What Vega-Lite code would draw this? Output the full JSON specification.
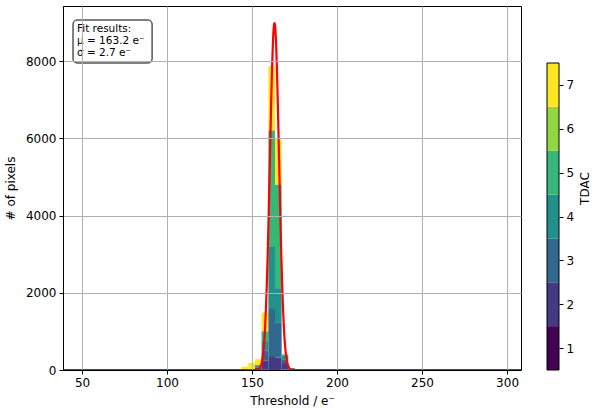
{
  "$schema": "https://vega.github.io/schema/vega-lite/v6.json",
  "padding": {"left": 3, "top": 5, "right": 0, "bottom": 0},
  "background": "white",
  "spacing": 20,
  "datasets": {
    "hist": [
      {"bin_start": 143.9, "bin_end": 147.8, "tdac": 7, "count": 90},
      {"bin_start": 147.8, "bin_end": 151.7, "tdac": 2, "count": 20},
      {"bin_start": 147.8, "bin_end": 151.7, "tdac": 7, "count": 170},
      {"bin_start": 151.7, "bin_end": 155.6, "tdac": 2, "count": 60},
      {"bin_start": 151.7, "bin_end": 155.6, "tdac": 3, "count": 40},
      {"bin_start": 151.7, "bin_end": 155.6, "tdac": 5, "count": 30},
      {"bin_start": 151.7, "bin_end": 155.6, "tdac": 7, "count": 150},
      {"bin_start": 155.6, "bin_end": 159.6, "tdac": 1, "count": 10},
      {"bin_start": 155.6, "bin_end": 159.6, "tdac": 2, "count": 240},
      {"bin_start": 155.6, "bin_end": 159.6, "tdac": 3, "count": 250},
      {"bin_start": 155.6, "bin_end": 159.6, "tdac": 4, "count": 250},
      {"bin_start": 155.6, "bin_end": 159.6, "tdac": 5, "count": 250},
      {"bin_start": 155.6, "bin_end": 159.6, "tdac": 6, "count": 10},
      {"bin_start": 155.6, "bin_end": 159.6, "tdac": 7, "count": 475},
      {"bin_start": 159.6, "bin_end": 163.5, "tdac": 1, "count": 20},
      {"bin_start": 159.6, "bin_end": 163.5, "tdac": 2, "count": 340},
      {"bin_start": 159.6, "bin_end": 163.5, "tdac": 3, "count": 1220},
      {"bin_start": 159.6, "bin_end": 163.5, "tdac": 4, "count": 1607},
      {"bin_start": 159.6, "bin_end": 163.5, "tdac": 5, "count": 3003},
      {"bin_start": 159.6, "bin_end": 163.5, "tdac": 6, "count": 30},
      {"bin_start": 159.6, "bin_end": 163.5, "tdac": 7, "count": 1655},
      {"bin_start": 163.5, "bin_end": 167.4, "tdac": 1, "count": 20},
      {"bin_start": 163.5, "bin_end": 167.4, "tdac": 2, "count": 300},
      {"bin_start": 163.5, "bin_end": 167.4, "tdac": 3, "count": 900},
      {"bin_start": 163.5, "bin_end": 167.4, "tdac": 4, "count": 900},
      {"bin_start": 163.5, "bin_end": 167.4, "tdac": 5, "count": 2685},
      {"bin_start": 163.5, "bin_end": 167.4, "tdac": 7, "count": 1170},
      {"bin_start": 167.4, "bin_end": 171.3, "tdac": 1, "count": 10},
      {"bin_start": 167.4, "bin_end": 171.3, "tdac": 2, "count": 170},
      {"bin_start": 167.4, "bin_end": 171.3, "tdac": 3, "count": 100},
      {"bin_start": 167.4, "bin_end": 171.3, "tdac": 4, "count": 100},
      {"bin_start": 167.4, "bin_end": 171.3, "tdac": 5, "count": 25},
      {"bin_start": 171.3, "bin_end": 175.3, "tdac": 2, "count": 30},
      {"bin_start": 171.3, "bin_end": 175.3, "tdac": 4, "count": 20}
    ],
    "fit": [
      {"x": 38.8, "y": 0}, {"x": 100, "y": 0}, {"x": 145, "y": 0}, {"x": 150.2, "y": 0.1},
      {"x": 151.2, "y": 0.4}, {"x": 152.2, "y": 2.2}, {"x": 153.2, "y": 9.4}, {"x": 154.2, "y": 35},
      {"x": 154.7, "y": 63}, {"x": 155.2, "y": 112}, {"x": 155.7, "y": 190}, {"x": 156.2, "y": 312},
      {"x": 156.7, "y": 496}, {"x": 157.2, "y": 761}, {"x": 157.7, "y": 1129}, {"x": 158.2, "y": 1618},
      {"x": 158.7, "y": 2242}, {"x": 159.2, "y": 3000}, {"x": 159.7, "y": 3880}, {"x": 160.2, "y": 4849},
      {"x": 160.7, "y": 5856}, {"x": 161.2, "y": 6833}, {"x": 161.7, "y": 7705}, {"x": 162.2, "y": 8394},
      {"x": 162.7, "y": 8837}, {"x": 162.95, "y": 8951}, {"x": 163.2, "y": 8990}, {"x": 163.45, "y": 8951},
      {"x": 163.7, "y": 8837}, {"x": 164.2, "y": 8394}, {"x": 164.7, "y": 7705}, {"x": 165.2, "y": 6833},
      {"x": 165.7, "y": 5856}, {"x": 166.2, "y": 4849}, {"x": 166.7, "y": 3880}, {"x": 167.2, "y": 3000},
      {"x": 167.7, "y": 2242}, {"x": 168.2, "y": 1618}, {"x": 168.7, "y": 1129}, {"x": 169.2, "y": 761},
      {"x": 169.7, "y": 496}, {"x": 170.2, "y": 312}, {"x": 170.7, "y": 190}, {"x": 171.2, "y": 112},
      {"x": 171.7, "y": 63}, {"x": 172.2, "y": 35}, {"x": 173.2, "y": 9.4}, {"x": 174.2, "y": 2.2},
      {"x": 175.2, "y": 0.4}, {"x": 176.2, "y": 0.1}, {"x": 181, "y": 0}, {"x": 250, "y": 0}, {"x": 308.2, "y": 0}
    ],
    "cbar": [
      {"tdac": 1, "lo": 0.5, "hi": 1.5}, {"tdac": 2, "lo": 1.5, "hi": 2.5}, {"tdac": 3, "lo": 2.5, "hi": 3.5},
      {"tdac": 4, "lo": 3.5, "hi": 4.5}, {"tdac": 5, "lo": 4.5, "hi": 5.5}, {"tdac": 6, "lo": 5.5, "hi": 6.5},
      {"tdac": 7, "lo": 6.5, "hi": 7.5}
    ],
    "note": [{"label": "Fit results:\nμ = 163.2 e⁻\nσ = 2.7 e⁻"}]
  },
  "hconcat": [
    {
      "width": 458,
      "height": 364,
      "layer": [
        {
          "data": {"name": "hist"},
          "transform": [
            {"stack": "count", "groupby": ["bin_start"], "sort": [{"field": "tdac", "order": "ascending"}], "as": ["c0", "c1"]}
          ],
          "mark": {"type": "rect", "strokeWidth": 0},
          "encoding": {
            "x": {"field": "bin_start", "type": "quantitative",
                  "scale": {"domain": [38.8, 308.2], "nice": false, "zero": false},
                  "axis": {"values": [50, 100, 150, 200, 250, 300], "title": "Threshold / e⁻", "grid": true, "zindex": 1, "titlePadding": 7}},
            "x2": {"field": "bin_end"},
            "y": {"field": "c0", "type": "quantitative",
                  "scale": {"domain": [0, 9430], "nice": false},
                  "axis": {"values": [0, 2000, 4000, 6000, 8000], "format": "d", "title": "# of pixels", "grid": true, "zindex": 1, "titlePadding": 8}},
            "y2": {"field": "c1"},
            "color": {"field": "tdac", "type": "ordinal",
                      "scale": {"domain": [1, 2, 3, 4, 5, 6, 7], "range": ["#440154", "#443983", "#31688e", "#21918c", "#35b779", "#90d743", "#fde725"]},
                      "legend": null}
          }
        },
        {
          "data": {"name": "fit"},
          "mark": {"type": "line", "color": "#ff0000", "strokeWidth": 2.2, "interpolate": "monotone"},
          "encoding": {
            "x": {"field": "x", "type": "quantitative"},
            "y": {"field": "y", "type": "quantitative"}
          }
        },
        {
          "data": {"name": "note"},
          "mark": {"type": "rect", "fill": "white", "stroke": "black", "strokeWidth": 1, "cornerRadius": 4},
          "encoding": {
            "x": {"datum": 44.7, "type": "quantitative"},
            "x2": {"datum": 91.2},
            "y": {"datum": 9067, "type": "quantitative"},
            "y2": {"datum": 7953}
          }
        },
        {
          "data": {"name": "note"},
          "mark": {"type": "text", "align": "left", "baseline": "top", "lineBreak": "\n", "fontSize": 10.5, "lineHeight": 12, "color": "black"},
          "encoding": {
            "x": {"datum": 47.0, "type": "quantitative"},
            "y": {"datum": 8960, "type": "quantitative"},
            "text": {"field": "label"}
          }
        }
      ]
    },
    {
      "width": 12,
      "height": 364,
      "view": {"stroke": null},
      "data": {"name": "cbar"},
      "layer": [
        {
          "mark": {"type": "rect", "strokeWidth": 0},
          "encoding": {
            "x": {"datum": 0, "type": "quantitative", "scale": {"domain": [0, 1], "nice": false}, "axis": null},
            "x2": {"datum": 1},
            "y": {"field": "lo", "type": "quantitative",
                  "scale": {"domain": [0.5, 8.8], "nice": false, "zero": false},
                  "axis": {"orient": "right", "values": [1, 2, 3, 4, 5, 6, 7], "title": "TDAC", "titleAngle": 270, "titleBaseline": "top", "grid": false, "domain": false, "titlePadding": 6}},
            "y2": {"field": "hi"},
            "color": {"field": "tdac", "type": "ordinal",
                      "scale": {"domain": [1, 2, 3, 4, 5, 6, 7], "range": ["#440154", "#443983", "#31688e", "#21918c", "#35b779", "#90d743", "#fde725"]},
                      "legend": null}
          }
        },
        {
          "data": {"values": [{}]},
          "mark": {"type": "rect", "fill": null, "stroke": "black", "strokeWidth": 1},
          "encoding": {
            "x": {"datum": 0, "type": "quantitative"},
            "x2": {"datum": 1},
            "y": {"datum": 0.5, "type": "quantitative"},
            "y2": {"datum": 7.5}
          }
        }
      ]
    }
  ],
  "config": {
    "font": "DejaVu Sans",
    "view": {"stroke": "black", "strokeWidth": 1},
    "axis": {"labelFontSize": 12, "titleFontSize": 12, "labelColor": "black", "titleColor": "black",
             "tickColor": "black", "domainColor": "black", "gridColor": "#b0b0b0", "gridWidth": 1,
             "tickSize": 4, "titleFontWeight": "normal", "labelPadding": 3, "labelFont": "DejaVu Sans", "titleFont": "DejaVu Sans"}
  }
}
